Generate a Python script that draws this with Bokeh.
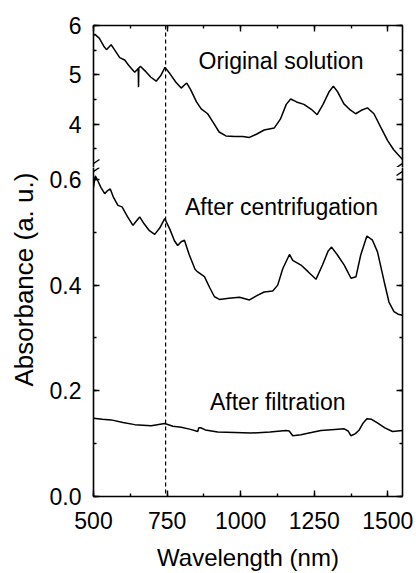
from bokeh.plotting import figure
from bokeh.models import (Range1d, LinearAxis, SingleIntervalTicker, Span, Label,
                          Arrow, NumeralTickFormatter)
from bokeh.layouts import column
from bokeh.embed import file_html
from bokeh.resources import INLINE

# ---------------- data ----------------
orig_wl = [500, 505, 520, 535, 544, 552, 560, 570, 589, 606, 620, 640, 652, 653, 654, 660,
           675, 695, 713, 728, 743, 760, 780, 798, 810, 817, 830, 850, 866, 888, 905, 927,
           950, 980, 1007, 1030, 1055, 1080, 1114, 1135, 1155, 1170, 1190, 1215, 1240, 1260,
           1280, 1300, 1315, 1330, 1351, 1370, 1391, 1410, 1431, 1453, 1475, 1499, 1520, 1550]
orig_abs = [5.80, 5.82, 5.74, 5.58, 5.51, 5.56, 5.61, 5.52, 5.35, 5.30, 5.19, 5.05, 5.13, 4.75,
            5.14, 5.17, 5.08, 4.95, 4.87, 4.98, 5.15, 5.02, 4.85, 4.73, 4.80, 4.83, 4.70, 4.45,
            4.31, 4.21, 4.05, 3.84, 3.76, 3.75, 3.75, 3.73, 3.80, 3.88, 3.92, 4.10, 4.40, 4.51,
            4.45, 4.40, 4.30, 4.19, 4.40, 4.65, 4.77, 4.65, 4.41, 4.30, 4.21, 4.28, 4.33, 4.21,
            3.95, 3.67, 3.48, 3.28]

cent_wl = [500, 506, 515, 525, 538, 548, 557, 568, 583, 597, 615, 634, 645, 657, 672, 690,
           708, 725, 742, 760, 775, 786, 798, 809, 825, 845, 854, 877, 895, 911, 928, 960,
           996, 1030, 1055, 1080, 1109, 1126, 1143, 1166, 1177, 1205, 1230, 1256, 1278, 1297,
           1309, 1329, 1352, 1375, 1392, 1408, 1429, 1448, 1465, 1488, 1504, 1521, 1535, 1550]
cent_abs = [0.585, 0.607, 0.597, 0.585, 0.573, 0.579, 0.582, 0.566, 0.551, 0.548, 0.530,
            0.513, 0.521, 0.529, 0.516, 0.503, 0.496, 0.508, 0.526, 0.505, 0.484, 0.475,
            0.482, 0.485, 0.458, 0.430, 0.425, 0.416, 0.395, 0.378, 0.373, 0.375, 0.377,
            0.372, 0.380, 0.387, 0.389, 0.400, 0.431, 0.458, 0.447, 0.438, 0.425, 0.411,
            0.438, 0.464, 0.472, 0.457, 0.438, 0.413, 0.416, 0.457, 0.493, 0.485, 0.463,
            0.406, 0.368, 0.350, 0.345, 0.343]

filt_wl = [500, 530, 560, 600, 640, 696, 742, 770, 798, 830, 854, 858, 864, 880, 922, 980,
           1035, 1100, 1154, 1165, 1177, 1205, 1240, 1273, 1320, 1352, 1365, 1375, 1390, 1403,
           1415, 1429, 1445, 1466, 1490, 1516, 1550]
filt_abs = [0.148, 0.146, 0.145, 0.140, 0.136, 0.134, 0.138, 0.133, 0.131, 0.127, 0.123,
            0.130, 0.130, 0.126, 0.122, 0.121, 0.120, 0.122, 0.125, 0.124, 0.115, 0.117,
            0.121, 0.125, 0.127, 0.128, 0.124, 0.115, 0.119, 0.126, 0.138, 0.147, 0.146,
            0.139, 0.130, 0.123, 0.125]

marker_wl = 745
labels_top = [("Original solution", 1137, 5.29)]
labels_bottom = [("After centrifugation", 1139, 0.547), ("After filtration", 1126, 0.179)]
x_title = "Wavelength (nm)"
y_title = "Absorbance (a. u.)"

X_MIN, X_MAX = 500, 1550
TOP_MIN, TOP_MAX = 3.12, 6.0
BOT_MIN, BOT_MAX = 0.0, 0.6226

FONT = "Liberation Sans"
FS = "23px"

# ---------------- layout ----------------
W = 416
LEFT, RIGHT = 92, 14
TOP_BORDER = 25
TOP_FRAME = 142
BOT_FRAME = 330
BOT_BORDER = 76
FRAME_W = W - LEFT - RIGHT

x_range = Range1d(X_MIN, X_MAX)
nm_per_px = (X_MAX - X_MIN) / FRAME_W
top_per_px = (TOP_MAX - TOP_MIN) / TOP_FRAME
bot_per_px = (BOT_MAX - BOT_MIN) / BOT_FRAME


def style_axis(ax, labels=True, standoff=12):
    ax.major_tick_in = 6
    ax.major_tick_out = 0
    ax.minor_tick_in = 3
    ax.minor_tick_out = 0
    ax.axis_line_width = 1.6
    ax.major_tick_line_width = 1.4
    ax.minor_tick_line_width = 1.4
    ax.axis_line_color = "black"
    ax.major_tick_line_color = "black"
    ax.minor_tick_line_color = "black"
    if labels:
        ax.major_label_text_font = FONT
        ax.major_label_text_font_size = FS
        ax.major_label_text_color = "black"
        ax.major_label_standoff = standoff
    else:
        ax.major_label_text_font_size = "1px"
        ax.major_label_text_color = None
        ax.major_label_standoff = 0
    return ax


def make_fig(height, y_range, border_top, border_bottom, **kw):
    p = figure(width=W, height=height, x_range=x_range, y_range=y_range,
               output_backend="svg", toolbar_location=None,
               x_axis_location=None, y_axis_location=None,
               min_border_left=LEFT, min_border_right=RIGHT,
               min_border_top=border_top, min_border_bottom=border_bottom, **kw)
    p.outline_line_color = None
    p.grid.visible = False
    p.background_fill_color = "white"
    p.border_fill_color = "white"
    return p


# ---------------- top panel ----------------
top = make_fig(TOP_BORDER + TOP_FRAME, Range1d(TOP_MIN, TOP_MAX), TOP_BORDER, 0)
yt = SingleIntervalTicker(interval=1, num_minor_ticks=2)
xt = SingleIntervalTicker(interval=250, num_minor_ticks=2)
top.add_layout(style_axis(LinearAxis(ticker=yt)), "left")
top.add_layout(style_axis(LinearAxis(ticker=yt), labels=False), "right")
top.add_layout(style_axis(LinearAxis(ticker=xt), labels=False), "above")
top.line(orig_wl, orig_abs, line_color="black", line_width=1.5)
top.add_layout(Span(location=marker_wl, dimension="height", line_color="black",
                    line_width=1.2, line_dash="4 3"))
for txt, lx, ly in labels_top:
    top.add_layout(Label(x=lx, y=ly, text=txt, text_align="center", text_baseline="alphabetic",
                         text_font=FONT, text_font_size=FS, text_color="black"))

# ---------------- bottom panel ----------------
bot = make_fig(BOT_FRAME + BOT_BORDER, Range1d(BOT_MIN, BOT_MAX), 0, BOT_BORDER,
               title=y_title, title_location="left")
bot.title.text_font = FONT
bot.title.text_font_size = "26px"
bot.title.text_font_style = "normal"
bot.title.text_color = "black"
bot.title.align = "left"
bot.title.vertical_align = "middle"
bot.title.offset = 110
bot.title.standoff = 14

ybt = SingleIntervalTicker(interval=0.2, num_minor_ticks=2)
xbt = SingleIntervalTicker(interval=250, num_minor_ticks=2)
lax = style_axis(LinearAxis(ticker=ybt))
lax.formatter = NumeralTickFormatter(format="0.0")
bot.add_layout(lax, "left")
bot.add_layout(style_axis(LinearAxis(ticker=ybt), labels=False), "right")
bax = style_axis(LinearAxis(ticker=xbt), standoff=15)
bax.axis_label = x_title
bax.axis_label_text_font = FONT
bax.axis_label_text_font_size = "24px"
bax.axis_label_text_font_style = "normal"
bax.axis_label_text_color = "black"
bax.axis_label_standoff = 12
bot.add_layout(bax, "below")
bot.line(cent_wl, cent_abs, line_color="black", line_width=1.5)
bot.line(filt_wl, filt_abs, line_color="black", line_width=1.5)
bot.add_layout(Span(location=marker_wl, dimension="height", line_color="black",
                    line_width=1.2, line_dash="4 3"))
for txt, lx, ly in labels_bottom:
    bot.add_layout(Label(x=lx, y=ly, text=txt, text_align="center", text_baseline="alphabetic",
                         text_font=FONT, text_font_size=FS, text_color="black"))


# axis-break marks
def slash(p, xc, yc, ypp):
    p.add_layout(Arrow(end=None, x_start=xc - 6 * nm_per_px, y_start=yc - 4 * ypp,
                       x_end=xc + 6 * nm_per_px, y_end=yc + 4 * ypp,
                       line_color="black", line_width=1.4))


for xc in (X_MIN, X_MAX):
    slash(top, xc, TOP_MIN + 4 * top_per_px, top_per_px)
    slash(bot, xc, BOT_MAX - 4 * bot_per_px, bot_per_px)

layout = column(top, bot, spacing=0)
open("out.html", "w").write(file_html(layout, INLINE))
